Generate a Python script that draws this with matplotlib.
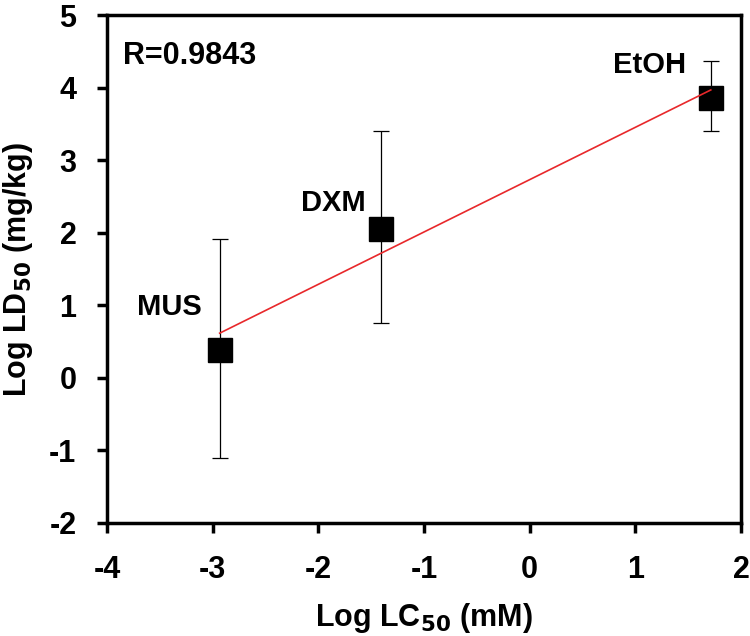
import matplotlib
matplotlib.use("Agg")
import matplotlib.pyplot as plt
import numpy as np

plt.rcParams['font.family'] = ['Liberation Sans', 'DejaVu Sans']
plt.rcParams['font.weight'] = 'bold'
plt.rcParams['axes.unicode_minus'] = False
plt.rcParams['mathtext.default'] = 'bf'

names = ["MUS", "DXM", "EtOH"]
log_lc50 = [-2.934, -1.41, 1.714]
log_ld50 = [0.39, 2.05, 3.86]
err_up = [1.53, 1.35, 0.51]
err_down = [1.49, 1.29, 0.46]
label_x = [-3.406, -1.858, 1.132]
label_y = [0.97, 2.41, 4.31]
r_text = "R=0.9843"

fig = plt.figure(figsize=(7.5, 6.36), dpi=100)
ax = fig.add_axes([0.1427, 0.178, 0.988 - 0.1427, 0.976 - 0.178])

x = np.array(log_lc50)
y = np.array(log_ld50)
slope, intercept = np.polyfit(x, y, 1)
xs = np.array([x.min(), x.max()])
ax.plot(xs, slope * xs + intercept, color='#e8282b', lw=1.2, zorder=3)

ax.errorbar(x, y, yerr=[err_down, err_up], fmt='s', color='black',
            markersize=17, ecolor='black', elinewidth=0.9, capsize=5.5,
            capthick=0.9, zorder=2)

for n, lx, ly in zip(names, label_x, label_y):
    ax.text(lx, ly, n, ha='center', va='center', fontsize=21, fontweight='bold')
ax.text(-3.85, 4.44, r_text, ha='left', va='center', fontsize=22, fontweight='bold')

ax.set_xlim(-4, 2)
ax.set_ylim(-2, 5)
ax.set_xticks(range(-4, 3))
ax.set_yticks(range(-2, 6))
ax.tick_params(direction='out', length=7, width=2.5, labelsize=22)
ax.tick_params(axis='x', pad=16)
ax.tick_params(axis='y', pad=15)
for lab in ax.get_xticklabels() + ax.get_yticklabels():
    lab.set_fontweight('bold')
for s in ax.spines.values():
    s.set_linewidth(2.5)

ax.set_xlabel(r"Log LC$_{\mathbf{50}}$ (mM)", fontsize=22, fontweight='bold', labelpad=12)
ax.set_ylabel(r"Log LD$_{\mathbf{50}}$ (mg/kg)", fontsize=22, fontweight='bold', labelpad=10)

fig.savefig("out.png", dpi=100)
